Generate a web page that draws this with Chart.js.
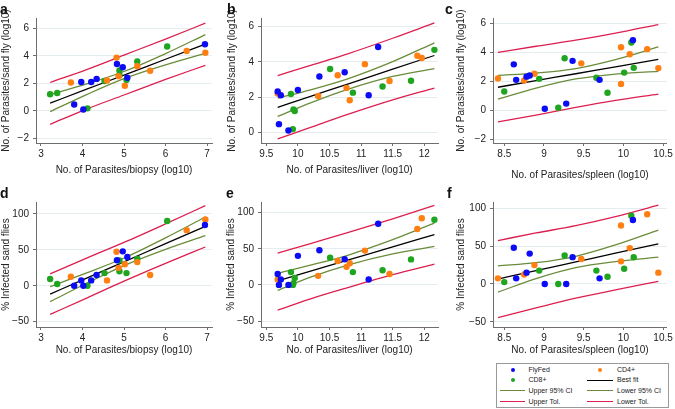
<!DOCTYPE html>
<html><head><meta charset="utf-8">
<script src="https://cdn.jsdelivr.net/npm/chart.js@4.4.0/dist/chart.umd.min.js"></script>
<style>
html,body{margin:0;padding:0;background:#fff;}
body{width:675px;height:409px;overflow:hidden;position:relative;font-family:"Liberation Sans",Arial,sans-serif;color:#222;}
canvas{position:absolute;}
.plbl{position:absolute;font-weight:bold;font-size:14px;line-height:14px;color:#111;}
#legend{position:absolute;left:496px;top:363px;width:173px;height:45px;border:1px solid #9a9a9a;box-sizing:border-box;}
.li{position:absolute;font-size:7px;line-height:8px;white-space:nowrap;color:#222;}
.ld{position:absolute;width:4px;height:4px;border-radius:50%;}
.ll{position:absolute;height:1.3px;}
</style></head>
<body>
<canvas id="ca"></canvas><canvas id="cb"></canvas><canvas id="cc"></canvas>
<canvas id="cd"></canvas><canvas id="ce"></canvas><canvas id="cf"></canvas>
<div class="plbl" style="left:0px;top:1.5px">a</div>
<div class="plbl" style="left:227px;top:1.5px">b</div>
<div class="plbl" style="left:445px;top:2px">c</div>
<div class="plbl" style="left:0px;top:186px">d</div>
<div class="plbl" style="left:226px;top:186px">e</div>
<div class="plbl" style="left:447px;top:186px">f</div>
<div id="legend"></div>
<script>
// ---------- data ----------
const seriesNames = ['FlyFed', 'CD4+', 'CD8+'];
const lineNames = ['Best fit', 'Upper 95% CI', 'Lower 95% CI', 'Upper Tol.', 'Lower Tol.'];

const flyFedBiopsy    = [3.80, 3.97, 4.02, 4.21, 4.34, 4.83, 4.97, 5.08, 6.95];
const flyFedLiver     = [9.70, 9.73, 9.85, 11.12, 9.68, 10.74, 10.34, 10.00, 11.27];
const flyFedSpleen    = [9.28, 8.65, 9.01, 9.70, 8.78, 9.36, 8.62, 8.82, 10.12];
const flyFedParasites = [0.46, 2.10, 0.10, 2.10, 2.32, 3.41, 3.17, 2.40, 4.84];
const flyFedInfected  = [0, 7.5, 0, 7.5, 15, 35.5, 48, 40.2, 84.7];

const cd4Biopsy    = [3.72, 4.59, 4.82, 4.87, 5.02, 5.32, 5.63, 6.51, 6.96];
const cd4Liver     = [10.32, 9.68, 11.06, 10.77, 10.82, 10.63, 11.45, 11.89, 11.96];
const cd4Spleen    = [8.75, 8.42, 10.08, 8.88, 9.97, 9.47, 10.44, 9.97, 10.30];
const cd4Parasites = [2.06, 2.20, 3.87, 2.52, 1.82, 3.24, 2.91, 4.35, 4.22];
const cd4Infected  = [12.5, 7.5, 47.5, 25, 30, 33, 15, 77.5, 92.3];

const cd8Biopsy    = [3.22, 3.39, 4.12, 4.53, 4.89, 4.89, 5.06, 5.32, 6.04];
const cd8Liver     = [9.95, 9.93, 9.92, 9.89, 11.79, 11.34, 10.87, 10.51, 12.16];
const cd8Spleen    = [9.80, 8.50, 9.18, 8.94, 10.13, 10.01, 9.66, 9.26, 10.10];
const cd8Parasites = [1.21, 1.30, 0.18, 2.17, 2.93, 2.60, 2.25, 3.59, 4.68];
const cd8Infected  = [9.5, 2.5, 0, 17.7, 35.3, 20.2, 17.7, 37.7, 90.3];

// fitted lines, CI and tolerance bands
const biopsyLineX = [3.22, 4.1, 5.0, 6.0, 6.96];
const liverLineX  = [9.68, 10.2, 10.8, 11.5, 12.16];
const spleenLineX = [8.42, 8.9, 9.4, 9.9, 10.44];

const aFit = [0.56, 1.57, 2.60, 3.75, 4.85];
const aCiU = [1.18, 1.96, 2.86, 4.16, 5.54];
const aCiL = [-0.06, 1.18, 2.34, 3.34, 4.18];
const aTolU = [2.06, 3.00, 4.05, 5.22, 6.37];
const aTolL = [-0.98, 0.13, 1.15, 2.28, 3.31];

const bFit = [1.42, 2.04, 2.75, 3.59, 4.36];
const bCiU = [1.94, 2.41, 3.05, 4.01, 5.08];
const bCiL = [0.90, 1.67, 2.45, 3.17, 3.61];
const bTolU = [3.22, 3.80, 4.47, 5.34, 6.21];
const bTolL = [-0.38, 0.28, 1.03, 1.84, 2.51];

const cFit = [1.59, 2.05, 2.52, 3.00, 3.51];
const cCiU = [2.41, 2.57, 2.88, 3.50, 4.37];
const cCiL = [0.77, 1.53, 2.16, 2.50, 2.68];
const cTolU = [4.00, 4.42, 4.84, 5.32, 5.92];
const cTolL = [-0.80, -0.33, 0.20, 0.68, 1.12];

const dFit = [-11.6, 10.7, 33.4, 58.7, 82.8];
const dCiU = [-1.1, 17.9, 38.7, 66.7, 95.8];
const dCiL = [-22.1, 3.5, 28.1, 50.7, 69.8];
const dTolU = [16.7, 38.5, 60.4, 86.2, 111.6];
const dTolL = [-39.9, -17.1, 6.4, 31.2, 54.0];

const eFit = [5.5, 19.0, 34.6, 52.8, 69.5];
const eCiU = [16.2, 27.3, 41.4, 62.6, 85.6];
const eCiL = [-7.5, 10.7, 27.8, 43.0, 53.2];
const eTolU = [44.0, 57.3, 72.6, 91.5, 110.2];
const eTolL = [-35.0, -19.3, -3.4, 14.2, 28.8];

const fFit = [6.6, 17.7, 29.2, 40.7, 53.1];
const fCiU = [24.0, 28.2, 36.7, 51.7, 71.3];
const fCiL = [-10.8, 7.2, 21.7, 29.7, 35.5];
const fTolU = [57.5, 67.5, 77.2, 89.2, 104.3];
const fTolL = [-44.5, -31.7, -18.8, -7.8, 3.5];

const biopsyTicks = [3, 4, 5, 6, 7];
const liverTicks = [9.5, 10, 10.5, 11, 11.5, 12];
const spleenTicks = [8.5, 9, 9.5, 10, 10.5];
const logTicksA = [-2, 0, 2, 4, 6];
const logTicksB = [0, 2, 4, 6];
const pctTicks = [-50, 0, 50, 100];

// ---------- styling ----------
const groupColors = ['#0b0bf5', '#ff7f12', '#1fa51f'];
const lineColors = ['#000000', '#6a8c3a', '#6a8c3a', '#dc1f4f', '#dc1f4f'];
const groups = [
  {x: {Biopsy: flyFedBiopsy, Liver: flyFedLiver, Spleen: flyFedSpleen}, y: {Par: flyFedParasites, Inf: flyFedInfected}},
  {x: {Biopsy: cd4Biopsy, Liver: cd4Liver, Spleen: cd4Spleen}, y: {Par: cd4Parasites, Inf: cd4Infected}},
  {x: {Biopsy: cd8Biopsy, Liver: cd8Liver, Spleen: cd8Spleen}, y: {Par: cd8Parasites, Inf: cd8Infected}}
];

const T1 = 'No. of Parasites/sand fly (log10)', T2 = '% Infected sand flies';
const panels = [
  {id:'ca', cx:0, cy:0, cw:222, ch:182, L:36, T:18, R:212, xKey:'Biopsy', yKey:'Par', xmin:2.88, xmax:7.12, ymin:-2.34, ymax:6.75,
   xt:biopsyTicks, yt:logTicksA, lx:biopsyLineX, lines:[aFit,aCiU,aCiL,aTolU,aTolL], xTitle:'No. of Parasites/biopsy (log10)', yTitle:T1, ytp:0.5, xtp:6},
  {id:'cb', cx:222, cy:0, cw:225, ch:182, L:261, T:18, R:438, xKey:'Liver', yKey:'Par', xmin:9.416, xmax:12.217, ymin:-0.61, ymax:6.49,
   xt:liverTicks, yt:logTicksB, lx:liverLineX, lines:[bFit,bCiU,bCiL,bTolU,bTolL], xTitle:'No. of Parasites/liver (log10)', yTitle:T1, ytp:4.5, xtp:6},
  {id:'cc', cx:447, cy:0, cw:228, ch:182, L:493, T:18, R:667, xKey:'Spleen', yKey:'Par', xmin:8.358, xmax:10.547, ymin:-2.26, ymax:6.37,
   xt:spleenTicks, yt:logTicksA, lx:spleenLineX, lines:[cFit,cCiU,cCiL,cTolU,cTolL], xTitle:'No. of Parasites/spleen (log10)', yTitle:T1, ytp:8.5, xtp:1},
  {id:'cd', cx:0, cy:182, cw:222, ch:180, L:36, T:202, R:212, xKey:'Biopsy', yKey:'Inf', xmin:2.88, xmax:7.12, ymin:-57.4, ymax:116.7,
   xt:biopsyTicks, yt:pctTicks, lx:biopsyLineX, lines:[dFit,dCiU,dCiL,dTolU,dTolL], xTitle:'No. of Parasites/biopsy (log10)', yTitle:T2, ytp:0, xtp:5.3},
  {id:'ce', cx:222, cy:182, cw:225, ch:180, L:261, T:202, R:438, xKey:'Liver', yKey:'Inf', xmin:9.416, xmax:12.217, ymin:-58.3, ymax:114.8,
   xt:liverTicks, yt:pctTicks, lx:liverLineX, lines:[eFit,eCiU,eCiL,eTolU,eTolL], xTitle:'No. of Parasites/liver (log10)', yTitle:T2, ytp:3.5, xtp:5.3},
  {id:'cf', cx:447, cy:182, cw:228, ch:180, L:493, T:202, R:667, xKey:'Spleen', yKey:'Inf', xmin:8.358, xmax:10.547, ymin:-56.9, ymax:108.5,
   xt:spleenTicks, yt:pctTicks, lx:spleenLineX, lines:[fFit,fCiU,fCiL,fTolU,fTolL], xTitle:'No. of Parasites/spleen (log10)', yTitle:T2, ytp:8.5, xtp:5.3}
];
const B1 = 143, B2 = 327;

Chart.defaults.font.family = '"Liberation Sans", Arial, sans-serif';
const fmt = v => (v < 0 ? '\u2212' + Math.abs(v) : String(v));
const axisCol = '#6e6e6e', gridCol = '#e6edf0', textCol = '#222';

panels.forEach(p => {
  const cv = document.getElementById(p.id);
  cv.width = p.cw; cv.height = p.ch;
  cv.style.left = p.cx + 'px'; cv.style.top = p.cy + 'px';
  cv.style.width = p.cw + 'px'; cv.style.height = p.ch + 'px';
  const B = p.cy === 0 ? B1 : B2;
  const datasets = [];
  groups.forEach((g, k) => {
    datasets.push({
      label: seriesNames[k],
      data: g.x[p.xKey].map((x, i) => ({x: x, y: g.y[p.yKey][i]})),
      backgroundColor: groupColors[k], borderWidth: 0, pointRadius: 3.2, pointHoverRadius: 3.2, showLine: false
    });
  });
  p.lines.forEach((arr, k) => {
    datasets.push({
      label: lineNames[k],
      data: p.lx.map((x, i) => ({x: x, y: arr[i]})),
      showLine: true, borderColor: lineColors[k], borderWidth: 1.3, pointRadius: 0,
      cubicInterpolationMode: 'monotone', fill: false
    });
  });
  new Chart(cv, {
    type: 'scatter',
    data: {datasets: datasets},
    options: {
      responsive: false, animation: false, devicePixelRatio: 1, events: [],
      layout: {padding: {left: 0, top: p.T - p.cy, right: p.cx + p.cw - p.R, bottom: 0}},
      plugins: {legend: {display: false}, tooltip: {enabled: false}},
      scales: {
        x: {
          type: 'linear', min: p.xmin, max: p.xmax,
          afterBuildTicks: s => { s.ticks = p.xt.map(v => ({value: v})); },
          afterFit: s => { s.height = p.cy + p.ch - B; },
          ticks: {callback: v => fmt(v), font: {size: 10}, color: textCol, padding: 2, maxRotation: 0, autoSkip: false},
          grid: {drawOnChartArea: false, drawTicks: true, tickLength: 3, tickColor: axisCol},
          border: {display: true, color: axisCol, width: 1},
          title: {display: true, text: p.xTitle, font: {size: 10, lineHeight: 1.2}, color: textCol, padding: {top: 0, bottom: p.xtp}}
        },
        y: {
          type: 'linear', min: p.ymin, max: p.ymax,
          afterBuildTicks: s => { s.ticks = p.yt.map(v => ({value: v})); },
          afterFit: s => { s.width = p.L - p.cx; },
          ticks: {callback: v => fmt(v), font: {size: 10}, color: textCol, padding: 4, autoSkip: false},
          grid: {color: gridCol, lineWidth: 1, drawTicks: true, tickLength: 3, tickColor: axisCol},
          border: {display: true, color: axisCol, width: 1},
          title: {display: true, text: p.yTitle, font: {size: 10, lineHeight: 1.2}, color: textCol, padding: {top: p.ytp, bottom: 0}}
        }
      }
    }
  });
});

// ---------- legend (HTML, built from the series names / colours) ----------
const leg = document.getElementById('legend');
const legendItems = [
  {name: seriesNames[0], dot: groupColors[0]}, {name: seriesNames[1], dot: groupColors[1]},
  {name: seriesNames[2], dot: groupColors[2]}, {name: lineNames[0], line: lineColors[0]},
  {name: lineNames[1], line: lineColors[1]}, {name: lineNames[2], line: lineColors[2]},
  {name: lineNames[3], line: lineColors[3]}, {name: lineNames[4], line: lineColors[4]}
];
const rowY = [6.5, 17.2, 27.8, 38.5];   // centres relative to box top
const colSym = [[4, 29], [91, 117]];    // symbol x-range relative to box left
const colTxt = [32.5, 121];
legendItems.forEach((it, i) => {
  const r = Math.floor(i / 2), c = i % 2;
  const cy = rowY[r];
  if (it.dot) {
    const d = document.createElement('div');
    d.className = 'ld';
    d.style.background = it.dot;
    const mid = (colSym[c][0] + colSym[c][1]) / 2;
    d.style.left = (mid - 2 - 1) + 'px'; d.style.top = (cy - 2 - 1) + 'px';
    leg.appendChild(d);
  } else {
    const l = document.createElement('div');
    l.className = 'll';
    l.style.background = it.line;
    l.style.left = (colSym[c][0] - 1) + 'px'; l.style.width = (colSym[c][1] - colSym[c][0]) + 'px';
    l.style.top = (cy - 0.65 - 1) + 'px';
    leg.appendChild(l);
  }
  const t = document.createElement('div');
  t.className = 'li';
  t.textContent = it.name;
  t.style.left = (colTxt[c] - 1) + 'px'; t.style.top = (cy - 4 - 1) + 'px';
  leg.appendChild(t);
});
</script>
</body></html>
